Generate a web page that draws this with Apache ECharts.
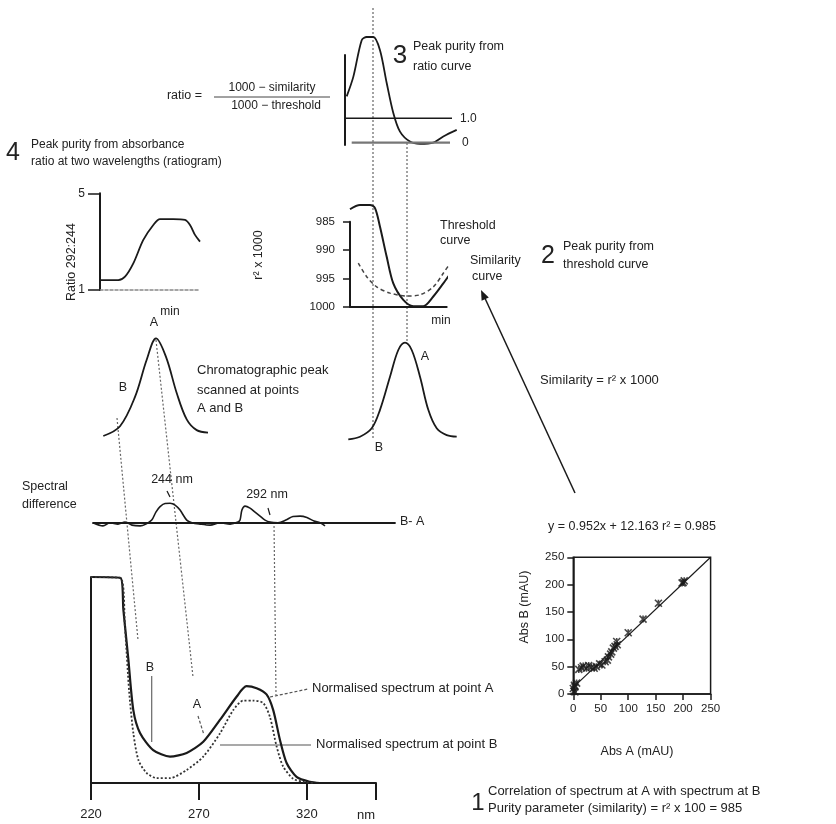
<!DOCTYPE html>
<html><head><meta charset="utf-8">
<script src="https://cdn.jsdelivr.net/npm/echarts@6/dist/echarts.min.js"></script>
<style>html,body{margin:0;padding:0;background:#fff}#c{width:836px;height:824px}</style>
</head><body><div id="c"></div><script>
// ---- Panel 1: normalised spectra (nm vs normalised absorbance)
const specANm  = [220, 233.7, 235, 237.3, 239.6, 242.7, 248.8, 256.6, 264.3, 272, 279.7, 287.5, 292, 296.7, 301.3, 304.4, 307.5, 310.6, 315.2, 321.4, 326];
const specAVal = [1.0, 0.995, 0.84, 0.60, 0.354, 0.243, 0.16, 0.128, 0.146, 0.20, 0.306, 0.42, 0.47, 0.46, 0.43, 0.354, 0.21, 0.097, 0.03, 0.006, 0];
const specBNm  = [220, 233.7, 235.7, 237.7, 239.6, 242, 245.8, 250.4, 256.6, 264.3, 272, 279.7, 285.9, 290.5, 295.1, 299.8, 302.9, 306, 309, 313.7, 318.3, 323];
const specBVal = [1.0, 0.995, 0.76, 0.44, 0.243, 0.11, 0.048, 0.024, 0.024, 0.063, 0.128, 0.24, 0.354, 0.40, 0.40, 0.388, 0.32, 0.176, 0.08, 0.02, 0.006, 0];
const specTickLabels = ['220', '270', '320'];
// ---- Spectral difference B - A
const diffNm  = [208.0,212.8,216.2,220.0,223.4,226.7,230.6,233.4,236.2,238.2,240.2,242.6,245.0,247.4,249.8,253.0,255.5,259.4,264.2,269.0,273.8,277.6,278.6,279.5,281.0,283.4,285.8,288.2,290.6,293.0,296.8,300.6,304.0,307.4,310.7,314.1,317.0,319.4];
const diffVal = [0,-0.16,0,-0.07,0.03,-0.12,-0.16,-0.07,0.13,0.53,0.8,0.96,0.97,0.88,0.63,0.13,0,-0.07,-0.12,0,-0.07,0.03,0.13,0.63,0.83,0.73,0.53,0.33,0.13,0.03,0,0.13,0.31,0.33,0.26,0.08,0,-0.16];
// ---- Chromatographic peak (left)
const chromLT = [0.33,2.0,3.5,4.67,5.6,6.6,7.67,8.67,9.67,10.8];
const chromLV = [0,0.1,0.40,0.78,1.0,0.81,0.44,0.17,0.06,0.035];
// ---- Ratiogram 292:244
const rgT = [0,1.83,2.5,3.33,4.33,5.33,6.0,7.33,8.5,9.0,9.5,10.0];
const rgV = [1.41,1.41,1.55,2.10,3.07,3.69,3.93,3.93,3.90,3.69,3.28,3.0];
const rgTickLabels = ['1', '5'];
// ---- Ratio curve
const rcT = [0.67,1.33,2.17,2.67,3.33,4.0,4.67,5.33,6.0,7.0,8.0,9.33,10.33,11.67];
const rcV = [1.9,2.70,4.21,4.34,4.34,3.80,2.45,1.22,0.45,0.04,-0.05,0,0.25,0.52];
const refOneT = [0.5, 11.2],  refOneV = [1, 1];
const refZeroT = [1.17, 11.0], refZeroV = [0, 0];
// ---- Threshold / similarity curves (r^2 x 1000)
const simT = [1.0,2.0,3.0,3.5,4.0,4.67,5.33,6.33,7.33,8.33,9.33,10.33,11.33,12.33];
const simV = [982.8,982.05,982.05,982.6,985.9,991.2,995.9,998.8,999.9,999.9,998.2,995.9,993.5,991.8];
const thrT = [1.83,2.67,3.67,5.0,6.67,8.0,9.33,10.33,11.33];
const thrV = [992.3,994.7,996.5,997.6,998.1,997.9,996.5,994.1,991.5];
const thrTickLabels = ['985', '990', '995', '1000'];
// ---- Chromatographic peak (middle)
const chromMT = [0.83,2.0,3.17,4.0,5.0,5.83,6.5,7.17,8.0,8.83,9.67,10.67,11.67];
const chromMV = [0.007,0.034,0.12,0.31,0.65,0.925,1.0,0.925,0.65,0.31,0.12,0.05,0.034];
// ---- Correlation scatter Abs A vs Abs B (mAU)
const absA = [0,1,3,3,6,2,10,15,18,24,28,33,38,42,48,52,58,62,64,68,70,73,76,79,80,100,127,155,198,200,202];
const absB = [10,5,13,4,20,16,45,48,51,47,52,49,47,50,55,53,59,62,68,73,77,84,87,96,90,112,137,166,203,204,207];
const fitX = [0, 250], fitY = [12.2, 250];
const scatTicks = [0, 50, 100, 150, 200, 250];

const FONT = '"Liberation Sans", Arial, sans-serif';
const INK = '#1a1a1a';
const zip = (a, b) => a.map((v, i) => [v, b[i]]);

function hid(gi, min, max, extra) {
  return Object.assign({ gridIndex: gi, type: 'value', min, max, show: false, splitLine: { show: false } }, extra || {});
}
function lineOnly(gi, min, max, extra) {
  return Object.assign({ gridIndex: gi, type: 'value', min, max,
    axisLine: { show: true, onZero: false, lineStyle: { color: INK, width: 2 } },
    axisTick: { show: false }, axisLabel: { show: false }, splitLine: { show: false } }, extra || {});
}

const grids = [
  { left: 91, top: 577, width: 285, height: 206 },      // 0 spectra
  { left: 93, top: 492.7, width: 302, height: 30 },     // 1 spectral difference
  { left: 100, top: 338.3, width: 110, height: 97.7 },  // 2 chrom left
  { left: 100, top: 193.3, width: 100, height: 96.7 },  // 3 ratiogram
  { left: 345, top: 55, width: 115, height: 90 },       // 4 ratio curve
  { left: 350, top: 221.7, width: 96.7, height: 85 },   // 5 threshold
  { left: 340, top: 342.7, width: 120, height: 97.3 },  // 6 chrom middle
  { left: 573.3, top: 557.3, width: 137.3, height: 136.7, show: true, borderColor: INK, borderWidth: 1.5, backgroundColor: 'transparent' } // 7 scatter
];

const xAxes = [
  lineOnly(0, 220, 352, { interval: 50,
    axisTick: { show: true, length: 17, lineStyle: { color: INK, width: 2 } },
    axisLabel: { show: true, margin: 25, fontSize: 13, color: '#222', fontFamily: FONT,
      formatter: v => specTickLabels[Math.round((v - 220) / 50)] || '' } }),
  lineOnly(1, 208, 353, { axisLine: { show: true, onZero: false, lineStyle: { color: INK, width: 1.8 } } }),
  hid(2, 0, 11),
  lineOnly(3, 0, 10, { axisLine: { show: true, onZero: false, lineStyle: { color: '#888', width: 1.5, type: [3, 2] } } }),
  hid(4, 0.5, 12),
  lineOnly(5, 1, 10.67),
  hid(6, 0, 12),
  { gridIndex: 7, type: 'value', min: 0, max: 250, interval: 50,
    axisLine: { show: true, onZero: false, lineStyle: { color: INK, width: 1.5 } },
    axisTick: { show: true, length: 6, lineStyle: { color: INK, width: 1.5 } },
    axisLabel: { margin: 9, fontSize: 11.5, color: '#222', fontFamily: FONT,
      formatter: v => String(scatTicks[Math.round(v / 50)]) },
    splitLine: { show: false } }
];
const yAxes = [
  lineOnly(0, 0, 1),
  hid(1, 0, 1.5),
  hid(2, 0, 1),
  lineOnly(3, 1, 5, { interval: 4,
    axisTick: { show: true, length: 12, lineStyle: { color: INK, width: 1.5 } },
    axisLabel: { show: true, margin: 15, fontSize: 12, color: '#222', fontFamily: FONT,
      formatter: v => rgTickLabels[Math.round((v - 1) / 4)] || '' } }),
  lineOnly(4, -0.1, 3.6),
  lineOnly(5, 985, 1000, { inverse: true, interval: 5,
    axisTick: { show: true, length: 7, lineStyle: { color: INK, width: 1.5 } },
    axisLabel: { show: true, margin: 15, fontSize: 11.5, color: '#222', fontFamily: FONT,
      formatter: v => thrTickLabels[Math.round((v - 985) / 5)] || '' } }),
  hid(6, 0, 1),
  { gridIndex: 7, type: 'value', min: 0, max: 250, interval: 50,
    axisLine: { show: true, onZero: false, lineStyle: { color: INK, width: 1.5 } },
    axisTick: { show: true, length: 6, lineStyle: { color: INK, width: 1.5 } },
    axisLabel: { margin: 9, fontSize: 11.5, color: '#222', fontFamily: FONT,
      formatter: v => String(scatTicks[Math.round(v / 50)]) },
    splitLine: { show: false } }
];

function ln(gi, data, style, smooth) {
  return { type: 'line', xAxisIndex: gi, yAxisIndex: gi, data, symbol: 'none', clip: false,
    smooth: smooth === undefined ? 0.3 : smooth, lineStyle: style, silent: true };
}

const series = [
  ln(0, zip(specANm, specAVal), { color: INK, width: 2.2 }, 0.25),
  ln(0, zip(specBNm, specBVal), { color: '#333', width: 1.8, type: [2, 2] }, 0.25),
  ln(1, zip(diffNm, diffVal), { color: INK, width: 1.6 }, 0.3),
  ln(2, zip(chromLT, chromLV), { color: INK, width: 1.8 }, 0.35),
  ln(3, zip(rgT, rgV), { color: INK, width: 1.8 }, 0.3),
  ln(4, zip(rcT, rcV), { color: INK, width: 1.8 }, 0.3),
  ln(4, zip(refOneT, refOneV), { color: INK, width: 1.6 }, false),
  ln(4, zip(refZeroT, refZeroV), { color: '#777', width: 2.2 }, false),
  ln(5, zip(simT, simV), { color: INK, width: 2 }, 0.3),
  ln(5, zip(thrT, thrV), { color: '#444', width: 1.5, type: [4, 3] }, 0.3),
  ln(6, zip(chromMT, chromMV), { color: INK, width: 1.8 }, 0.35),
  ln(7, zip(fitX, fitY), { color: INK, width: 1.2 }, false),
  { type: 'scatter', xAxisIndex: 7, yAxisIndex: 7, data: zip(absA, absB),
    symbol: 'path://M0,0L10,10M10,0L0,10M5,0L5,10', symbolSize: 7,
    itemStyle: { color: INK, borderColor: INK, borderWidth: 1.6 }, silent: true }
];

// ---- annotations (text & leader lines)
function T(text, x, y, o) {
  o = o || {};
  return { type: 'text', x, y, rotation: o.rot || 0, silent: true,
    style: { text, x: 0, y: 0, font: (o.weight || 'normal') + ' ' + (o.size || 12.5) + 'px ' + FONT,
      fill: o.color || '#222', align: o.align || 'left', textAlign: o.align || 'left',
      verticalAlign: 'middle', textVerticalAlign: 'middle' } };
}
function L(x1, y1, x2, y2, o) {
  o = o || {};
  return { type: 'line', silent: true, shape: { x1, y1, x2, y2 },
    style: { stroke: o.color || '#555', lineWidth: o.w || 1.2, lineDash: o.dash || null } };
}
const DOT = [2, 2];
const graphics = [
  // dotted guide lines
  L(117, 418, 138, 640, { dash: DOT, color: '#666' }),
  L(156, 340, 193, 677, { dash: DOT, color: '#666' }),
  L(274, 522, 276, 695, { dash: DOT, color: '#666' }),
  L(373, 8, 373, 440, { dash: DOT, color: '#666' }),
  L(407, 143, 407, 343, { dash: DOT, color: '#666' }),
  // panel 3
  T('3', 400, 56, { size: 26, align: 'center' }),
  T('Peak purity from', 413, 47),
  T('ratio curve', 413, 67),
  T('ratio =', 202, 96, { size: 12.5, align: 'right' }),
  T('1000 \u2212 similarity', 272, 88, { size: 12, align: 'center' }),
  L(214, 97, 330, 97, { color: '#444', w: 1 }),
  T('1000 \u2212 threshold', 276, 106, { size: 12, align: 'center' }),
  T('1.0', 460, 119, { size: 12 }),
  T('0', 462, 143, { size: 12 }),
  // panel 4
  T('4', 13, 153, { size: 25, align: 'center' }),
  T('Peak purity from absorbance', 31, 145, { size: 12 }),
  T('ratio at two wavelengths (ratiogram)', 31, 162, { size: 12 }),
  T('Ratio 292:244', 72, 262, { size: 12.5, align: 'center', rot: Math.PI / 2 }),
  T('min', 170, 312, { size: 12, align: 'center' }),
  // panel 2
  T('r\u00b2 x 1000', 259, 255, { size: 12.5, align: 'center', rot: Math.PI / 2 }),
  T('min', 441, 321, { size: 12, align: 'center' }),
  T('Threshold', 440, 226, { size: 12.5 }),
  T('curve', 440, 241, { size: 12.5 }),
  T('Similarity', 470, 261, { size: 12.5 }),
  T('curve', 472, 277, { size: 12.5 }),
  T('2', 548, 256, { size: 25, align: 'center' }),
  T('Peak purity from', 563, 247),
  T('threshold curve', 563, 265),
  // chromatograms
  T('A', 154, 323, { size: 12.5, align: 'center' }),
  T('B', 123, 388, { size: 12.5, align: 'center' }),
  T('Chromatographic peak', 197, 370, { size: 13 }),
  T('scanned at points', 197, 390, { size: 13 }),
  T('A and B', 197, 408, { size: 13 }),
  T('A', 425, 357, { size: 12.5, align: 'center' }),
  T('B', 379, 448, { size: 12.5, align: 'center' }),
  T('Similarity = r\u00b2 x 1000', 540, 380, { size: 13 }),
  // arrow
  L(575, 493, 483, 294, { color: INK, w: 1.5 }),
  { type: 'polygon', silent: true, shape: { points: [[481, 290], [488.8, 297.4], [481.6, 300.8]] }, style: { fill: INK } },
  // spectral difference
  T('Spectral', 22, 487, { size: 12.5 }),
  T('difference', 22, 505, { size: 12.5 }),
  T('244 nm', 172, 480, { size: 12.5, align: 'center' }),
  L(167, 491, 170, 497, { color: INK, w: 1.2 }),
  T('292 nm', 267, 495, { size: 12.5, align: 'center' }),
  L(268, 508, 270, 515, { color: INK, w: 1.2 }),
  T('B- A', 400, 522, { size: 12.5 }),
  // scatter labels
  T('y = 0.952x + 12.163 r\u00b2 = 0.985', 632, 527, { size: 12.5, align: 'center' }),
  T('Abs B (mAU)', 525, 607, { size: 12.5, align: 'center', rot: Math.PI / 2 }),
  T('Abs A (mAU)', 637, 752, { size: 12.5, align: 'center' }),
  // spectra labels
  T('Normalised spectrum at point A', 312, 688, { size: 13 }),
  L(270, 697, 308, 689, { color: '#555', dash: [3, 2] }),
  T('Normalised spectrum at point B', 316, 744, { size: 13 }),
  L(220, 745, 311, 745, { color: '#555' }),
  T('B', 150, 668, { size: 12.5, align: 'center' }),
  L(151.7, 676, 151.7, 742, { color: '#666' }),
  T('A', 197, 705, { size: 12.5, align: 'center' }),
  L(198, 716, 204, 735, { color: '#555', dash: [3, 2] }),
  T('nm', 366, 815, { size: 13, align: 'center' }),
  // panel 1 caption
  T('1', 478, 803, { size: 24, align: 'center' }),
  T('Correlation of spectrum at A with spectrum at B', 488, 791, { size: 13 }),
  T('Purity parameter (similarity) = r\u00b2 x 100 = 985', 488, 808, { size: 13 })
];

const chart = echarts.init(document.getElementById('c'), null, { renderer: 'canvas' });
chart.setOption({
  backgroundColor: '#fff',
  animation: false,
  textStyle: { fontFamily: FONT },
  grid: grids,
  xAxis: xAxes,
  yAxis: yAxes,
  series,
  graphic: graphics
});
</script></body></html>
